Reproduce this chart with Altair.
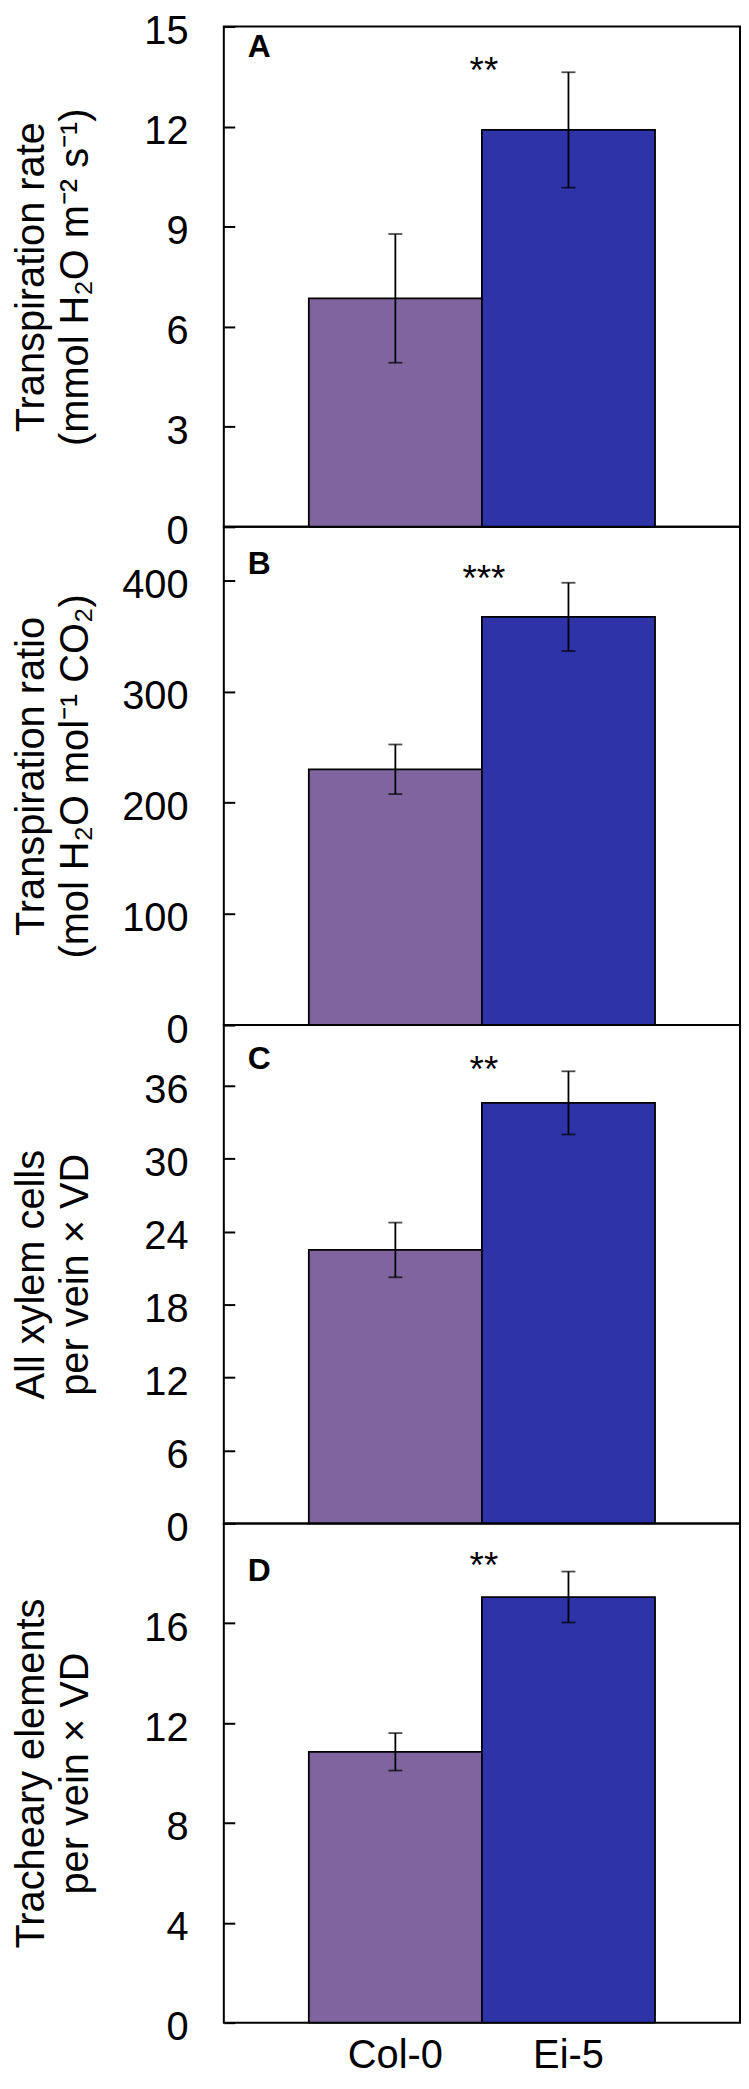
import altair as alt
import pandas as pd

genotypes = ["Col-0", "Ei-5"]
bar_colors = ["#7f64a0", "#2e33a8"]

# Panel A: transpiration rate (mmol H2O m-2 s-1)
a_mean = [6.85, 11.9]
a_err = [1.93, 1.73]
# Panel B: transpiration ratio (mol H2O mol-1 CO2)
b_mean = [230.0, 367.0]
b_err = [22.3, 30.7]
# Panel C: all xylem cells per vein x VD
c_mean = [22.5, 34.6]
c_err = [2.25, 2.6]
# Panel D: tracheary elements per vein x VD
d_mean = [10.85, 17.05]
d_err = [0.75, 1.02]

panel_letters = ["A", "B", "C", "D"]
sig_labels = ["**", "***", "**", "**"]
sig_y = [13.3, 390.0, 36.3, 17.8]
y_max = [15, 448, 41, 20]
y_ticks = [
    [0, 3, 6, 9, 12, 15],
    [0, 100, 200, 300, 400],
    [0, 6, 12, 18, 24, 30, 36],
    [0, 4, 8, 12, 16],
]
y_titles = [
    ["Transpiration rate", "(mmol H\u2082O m\u207b\u00b2 s\u207b\u00b9)"],
    ["Transpiration ratio", "(mol H\u2082O mol\u207b\u00b9 CO\u2082)"],
    ["All xylem cells", "per vein \u00d7 VD"],
    ["Tracheary elements", "per vein \u00d7 VD"],
]

FONT = "Liberation Sans"
PLOT_W = 519
panel_h = [503, 501, 501, 502]
letter_y = [5.6, 22.6, 19.6, 32.6]

all_means = [a_mean, b_mean, c_mean, d_mean]
all_errs = [a_err, b_err, c_err, d_err]


def panel(i, show_x):
    means = all_means[i]
    errs = all_errs[i]
    df = pd.DataFrame({
        "genotype": genotypes,
        "mean": means,
        "lo": [m - e for m, e in zip(means, errs)],
        "hi": [m + e for m, e in zip(means, errs)],
    })
    h = panel_h[i]
    xscale = alt.Scale(domain=genotypes, paddingInner=0, paddingOuter=0.491)
    yscale = alt.Scale(domain=[0, y_max[i]], nice=False, zero=True)
    if show_x:
        xaxis = alt.Axis(title=None, labelAngle=0, domain=False, ticks=False,
                         tickSize=0, labelPadding=13, labelFontSize=40,
                         labelFont=FONT, labelColor="black")
    else:
        xaxis = None
    yaxis = alt.Axis(values=y_ticks[i], title=y_titles[i], grid=False,
                     domain=False, offset=-11, tickSize=11, tickWidth=2,
                     tickColor="black", labelPadding=36, labelOffset=5,
                     titleX=-224, titleY=h / 2, titleAngle=-90,
                     titleBaseline="top", titleAlign="center")

    bars = alt.Chart(df).mark_bar(stroke="black", strokeWidth=1.8).encode(
        x=alt.X("genotype:N", scale=xscale, axis=xaxis, sort=genotypes),
        y=alt.Y("mean:Q", scale=yscale, axis=yaxis),
        color=alt.Color("genotype:N", scale=alt.Scale(domain=genotypes, range=bar_colors), legend=None),
    )
    rule = alt.Chart(df).mark_rule(color="black", strokeWidth=1.8).encode(
        x=alt.X("genotype:N"),
        y=alt.Y("lo:Q"),
        y2="hi:Q",
    )
    cap_lo = alt.Chart(df).mark_tick(color="black", thickness=1.8, size=14).encode(
        x=alt.X("genotype:N"),
        y=alt.Y("lo:Q"),
    )
    cap_hi = alt.Chart(df).mark_tick(color="black", thickness=1.8, size=14).encode(
        x=alt.X("genotype:N"),
        y=alt.Y("hi:Q"),
    )
    sdf = pd.DataFrame({"genotype": [genotypes[0]], "sy": [sig_y[i]], "s": [sig_labels[i]]})
    stars = alt.Chart(sdf).mark_text(font=FONT, fontSize=37, color="black",
                                     align="center", baseline="alphabetic", dx=2).encode(
        x=alt.X("genotype:N", bandPosition=1),
        y=alt.Y("sy:Q"),
        text="s:N",
    )
    ldf = pd.DataFrame({"l": [panel_letters[i]]})
    letter = alt.Chart(ldf).mark_text(font=FONT, fontSize=32, fontWeight="bold",
                                      color="black", align="left", baseline="top").encode(
        x=alt.value(24),
        y=alt.value(letter_y[i]),
        text="l:N",
    )
    return alt.layer(bars, rule, cap_lo, cap_hi, stars, letter).properties(
        width=PLOT_W, height=h
    )


chart = alt.vconcat(
    panel(0, False), panel(1, False), panel(2, False), panel(3, True),
    spacing=0, bounds="flush",
).resolve_scale(y="independent").properties(
    padding={"left": 2, "top": -3, "right": 0, "bottom": 0}
).configure_view(
    stroke="black", strokeWidth=2
).configure_axis(
    labelFont=FONT, titleFont=FONT, labelFontSize=40, titleFontSize=40,
    labelColor="black", titleColor="black", titleFontWeight="normal",
    titleLineHeight=44,
)

chart.save("out.html", embed_options={"renderer": "svg", "actions": False})
